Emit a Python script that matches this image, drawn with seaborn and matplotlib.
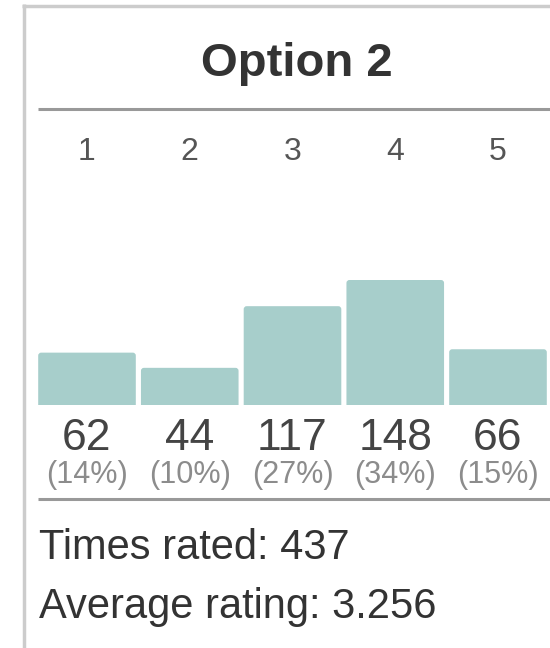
import matplotlib
matplotlib.use("Agg")
import matplotlib.pyplot as plt
import matplotlib.transforms as mtransforms
from matplotlib.lines import Line2D
from matplotlib.patches import FancyBboxPatch, Rectangle
import seaborn as sns
import pandas as pd

# ---- data ----
title = "Option 2"
ratings = ["1", "2", "3", "4", "5"]
counts = [62, 44, 117, 148, 66]
percent_labels = ["(14%)", "(10%)", "(27%)", "(34%)", "(15%)"]
times_rated = 437
average_rating = "3.256"

sns.set_theme(style="white")
plt.rcParams["font.family"] = ["Liberation Sans", "DejaVu Sans"]

W, H = 550, 648
fig = plt.figure(figsize=(W / 100, H / 100), dpi=100)
fig.patch.set_facecolor("white")


def fy(px):
    return 1 - px / H


def fx(px):
    return px / W


BAR_COLOR = "#a7cecb"

# axes for bars: bottom at 405 px, top at 280 px
ax = fig.add_axes([0, fy(405), 1, 125 / H])
df = pd.DataFrame({"rating": ratings, "count": counts})
sns.barplot(data=df, x="rating", y="count", color=BAR_COLOR, saturation=1,
            width=0.95, ax=ax, order=ratings)
ax.set_xlim((0 - 87) / 102.75, (550 - 87) / 102.75)
ax.set_ylim(0, max(counts))
ax.axis("off")

# give bars slightly rounded top corners (replace seaborn rectangles)
fig.canvas.draw()
px_per_x = ax.transData.transform((1, 0))[0] - ax.transData.transform((0, 0))[0]
px_per_y = ax.transData.transform((0, 1))[1] - ax.transData.transform((0, 0))[1]
r_px = 3.0
aspect = (1 / px_per_y) / (1 / px_per_x)
clip_rect = Rectangle((-10, 0), 100, 10000, transform=ax.transData)
for p in list(ax.patches):
    x0, y0 = p.get_x(), p.get_y()
    w, h = p.get_width(), p.get_height()
    p.set_visible(False)
    ext = r_px / px_per_y
    fb = FancyBboxPatch((x0, y0 - ext), w, h + ext,
                        boxstyle=f"round,pad=0,rounding_size={r_px / px_per_x}",
                        mutation_aspect=aspect, facecolor=BAR_COLOR,
                        edgecolor="none", linewidth=0)
    ax.add_patch(fb)
    fb.set_clip_path(clip_rect)

trans = mtransforms.blended_transform_factory(ax.transData, fig.transFigure)

# tick labels above bars
for i, r in enumerate(ratings):
    ax.text(i, fy(160), r, transform=trans, ha="center", va="baseline",
            fontsize=23, color="#555555")

# counts and percentages below bars
for i, (c, pl) in enumerate(zip(counts, percent_labels)):
    ax.text(i, fy(450), str(c), transform=trans, ha="center", va="baseline",
            fontsize=32, color="#444444")
    ax.text(i, fy(483), pl, transform=trans, ha="center", va="baseline",
            fontsize=22, color="#8c8c8c")

# title
fig.text(fx(297), fy(76), title, ha="center", va="baseline",
         fontsize=34, fontweight="bold", color="#333333")

# borders and separators
fig.add_artist(Line2D([fx(22), 1], [fy(5.5), fy(5.5)], color="#cccccc", lw=2.5,
                      solid_capstyle="butt"))
fig.add_artist(Line2D([fx(23.5), fx(23.5)], [fy(4), 0], color="#cccccc", lw=2.5,
                      solid_capstyle="butt"))
fig.add_artist(Line2D([fx(38), 1], [fy(109), fy(109)], color="#999999", lw=2.2,
                      solid_capstyle="butt"))
fig.add_artist(Line2D([fx(38), 1], [fy(499), fy(499)], color="#999999", lw=2.2,
                      solid_capstyle="butt"))

# footer
fig.text(fx(39), fy(559), f"Times rated: {times_rated}", ha="left", va="baseline",
         fontsize=30, color="#333333")
fig.text(fx(39), fy(618), f"Average rating: {average_rating}", ha="left",
         va="baseline", fontsize=30, color="#333333")

fig.savefig("out.png", dpi=100, facecolor="white")
